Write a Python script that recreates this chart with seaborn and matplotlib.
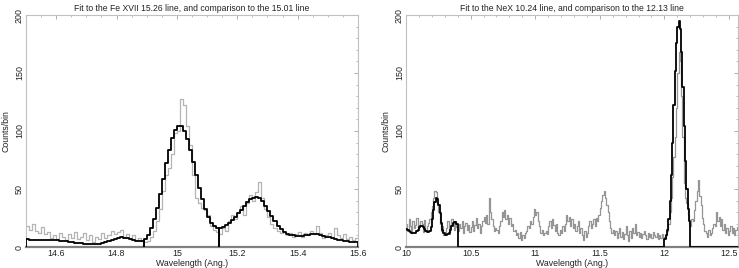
import numpy as np
import pandas as pd
import matplotlib
matplotlib.use("Agg")
import matplotlib.pyplot as plt
from matplotlib.ticker import MultipleLocator, FormatStrFormatter
import seaborn as sns

BIN = 0.01

# Fe XVII panel: observed counts per 0.01 A bin, 14.50 .. 15.59
fe_start = 14.50
fe_data = [
    18, 15, 20, 14, 12, 17, 11, 13, 8, 10,
    7, 12, 9, 6, 11, 8, 13, 7, 9, 12,
    6, 10, 4, 9, 7, 12, 8, 10, 14, 11,
    13, 15, 9, 11, 7, 10, 6, 8, 5, 4,
    5, 9, 14, 22, 33, 48, 62, 68, 80, 98,
    100, 128, 122, 104, 88, 62, 42, 38, 34, 32,
    28, 18, 15, 13, 11, 16, 14, 22, 28, 24,
    30, 35, 28, 38, 45, 40, 47, 56, 42, 33,
    26, 20, 16, 14, 12, 13, 10, 12, 9, 11,
    13, 9, 12, 10, 14, 11, 18, 12, 8, 10,
    12, 9, 16, 10, 8, 11, 7, 9, 6, 8,
]
# fitted model, three pieces (start wavelength, values)
fe_fit_starts = [14.50, 14.89, 15.14]
fe_fit_cont = [
    6.5, 6.4, 6.3, 6.2, 6.1, 6.0, 6.0, 5.9, 5.9, 5.8,
    5.7, 5.5, 5.3, 5.0, 4.6, 4.2, 3.8, 3.4, 3.1, 2.8,
    2.6, 2.5, 2.5, 2.7, 3.0, 3.5, 4.2, 5.0, 6.0, 7.0,
    7.8, 8.2, 8.0, 7.4, 6.6, 5.8, 5.3, 5.2, 5.5,
]
fe_fit_1501 = [
    7, 10, 16, 24, 34, 46, 59, 72, 84, 94,
    101, 104, 104, 100, 93, 84, 73, 62, 51, 41,
    33, 26, 21, 18, 16,
]
fe_fit_1526 = [
    16, 17, 19, 21, 23.5, 26, 29, 32, 35.5, 38.5,
    41, 42.5, 43, 42, 39.5, 35.5, 31, 26.5, 22, 18.5,
    15.5, 13, 11.5, 10.5, 10, 9.7, 9.6, 9.7, 10, 10.5,
    11, 11, 10.8, 10.3, 9.6, 8.9, 8.2, 7.5, 6.9, 6.3,
    5.8, 5.3, 4.9, 4.5, 4.2, 3.9,
]

# Ne X panel: observed counts per 0.01 A bin, 10.00 .. 12.56
ne_start = 10.00
ne_data = [
    20, 14, 24, 18, 12, 22, 16, 19, 25, 15,
    17, 22, 20, 13, 23, 15, 18, 21, 24, 30,
    35, 42, 48, 47, 38, 30, 20, 14, 18, 10,
    12, 16, 22, 11, 18, 24, 20, 15, 22, 17,
    14, 20, 16, 22, 12, 18, 21, 15, 19, 13,
    17, 22, 14, 19, 25, 16, 20, 12, 18, 22,
    26, 21, 28, 20, 42, 30, 24, 18, 14, 16,
    15, 12, 18, 22, 30, 26, 32, 24, 28, 20,
    25, 18, 20, 14, 15, 10, 12, 8, 13, 6,
    10, 8, 12, 14, 18, 16, 22, 20, 26, 33,
    28, 30, 22, 18, 12, 15, 10, 12, 14, 11,
    18, 22, 16, 24, 19, 14, 20, 12, 10, 15,
    12, 18, 14, 20, 28, 22, 26, 18, 24, 16,
    20, 14, 18, 22, 12, 16, 10, 6, 14, 9,
    12, 18, 22, 16, 20, 24, 18, 25, 22, 28,
    34, 40, 45, 48, 42, 36, 30, 22, 16, 12,
    15, 10, 14, 8, 12, 16, 9, 13, 7, 11,
    18, 10, 5, 14, 8, 16, 12, 20, 10, 13,
    9, 12, 8, 11, 14, 10, 7, 12, 9, 11,
    8, 13, 10, 9, 12, 7, 10, 8, 11, 9,
    8, 10, 14, 20, 30, 42, 60, 78, 95, 120,
    150, 168, 160, 130, 95, 55, 42, 38, 28, 20,
    18, 24, 22, 32, 40, 48, 58, 44, 36, 25,
    20, 14, 12, 9, 15, 10, 12, 16, 20, 18,
    30, 22, 26, 18, 24, 15, 20, 12, 16, 10,
    14, 18, 12, 16, 10, 15, 17,
]
ne_fit_starts = [10.00, 12.00]
ne_fit_1024 = [
    15.5, 15, 14.2, 13.3, 12.5, 12, 12, 12.5, 13.5, 15,
    17, 18, 18, 17, 15.5, 14, 13, 12.6, 13.5, 17,
    24, 32, 39, 42, 41, 36, 29, 21, 15, 12,
    10.5, 10.3, 11, 12.5, 15, 18, 20.5, 21.8, 21.5, 20,
]
ne_fit_1213 = [
    7, 10, 15, 24, 40, 62, 90, 122, 152, 176,
    190, 195, 188, 168, 138, 104, 74, 50, 33, 22,
]

titles = ["Fit to the Fe XVII 15.26 line, and comparison to the 15.01 line",
          "Fit to the NeX 10.24 line, and comparison to the 12.13 line"]


def step_frame(start, vals, drop=False):
    vals = np.asarray(vals, dtype=float)
    edges = start + BIN * np.arange(len(vals) + 1)
    y = np.append(vals, vals[-1])
    if drop:
        edges = np.concatenate([[edges[0]], edges, [edges[-1]]])
        y = np.concatenate([[0.0], y, [0.0]])
    return pd.DataFrame({"wave": edges, "counts": y})


def draw_steps(ax, df, color, lw, z):
    sns.lineplot(data=df, x="wave", y="counts", ax=ax, color=color, linewidth=lw,
                 estimator=None, sort=False, drawstyle="steps-post", zorder=z)


sns.set_style("white")
plt.rcParams["font.family"] = ["Liberation Sans", "DejaVu Sans"]

fig = plt.figure(figsize=(7.39, 2.68), dpi=100)
ax1 = fig.add_axes([26 / 739, 21 / 268, 332 / 739, 232 / 268])
ax2 = fig.add_axes([406 / 739, 21 / 268, 332 / 739, 232 / 268])

# left panel
draw_steps(ax1, step_frame(fe_start, fe_data), "#b4b4b4", 0.9, 2)
for st, seg in zip(fe_fit_starts, [fe_fit_cont, fe_fit_1501, fe_fit_1526]):
    draw_steps(ax1, step_frame(st, seg, drop=True), "black", 1.3, 3)
ax1.set_xlim(14.5, 15.6)

# right panel: model is zero outside the two fitted ranges
ne_model = np.zeros(len(ne_data))
for st, seg in zip(ne_fit_starts, [ne_fit_1024, ne_fit_1213]):
    i0 = int(round((st - ne_start) / BIN))
    ne_model[i0:i0 + len(seg)] = seg
draw_steps(ax2, step_frame(ne_start, ne_data), "#959595", 0.9, 2)
draw_steps(ax2, step_frame(ne_start, ne_model), "black", 1.3, 3)
ax2.set_xlim(10.0, 12.57)

for ax, title, xmin in zip([ax1, ax2], titles, [0.05, 0.1]):
    ax.set_ylim(0, 200)
    ax.set_title(title, fontsize=6.2, pad=3, color="#222222")
    ax.set_xlabel("Wavelength (Ang.)", fontsize=6.3, labelpad=0.5, color="#222222")
    ax.set_ylabel("Counts/bin", fontsize=6.3, labelpad=3, color="#222222")
    ax.yaxis.set_major_locator(MultipleLocator(50))
    ax.yaxis.set_minor_locator(MultipleLocator(10))
    ax.xaxis.set_minor_locator(MultipleLocator(xmin))
    ax.xaxis.set_major_formatter(FormatStrFormatter("%g"))
    ax.tick_params(which="both", direction="in", top=True, right=True,
                   color="#a0a0a0", labelsize=6.4, labelcolor="#222222", pad=1.5)
    ax.tick_params(which="major", length=3, width=0.6)
    ax.tick_params(which="minor", length=1.5, width=0.5)
    plt.setp(ax.get_yticklabels(), rotation=90, va="center")
    for side in ["top", "left", "right"]:
        ax.spines[side].set_color("#c0c0c0")
        ax.spines[side].set_linewidth(0.8)
    ax.spines["bottom"].set_color("#808080")
    ax.spines["bottom"].set_linewidth(1.6)

fig.savefig("out.png", dpi=100)
